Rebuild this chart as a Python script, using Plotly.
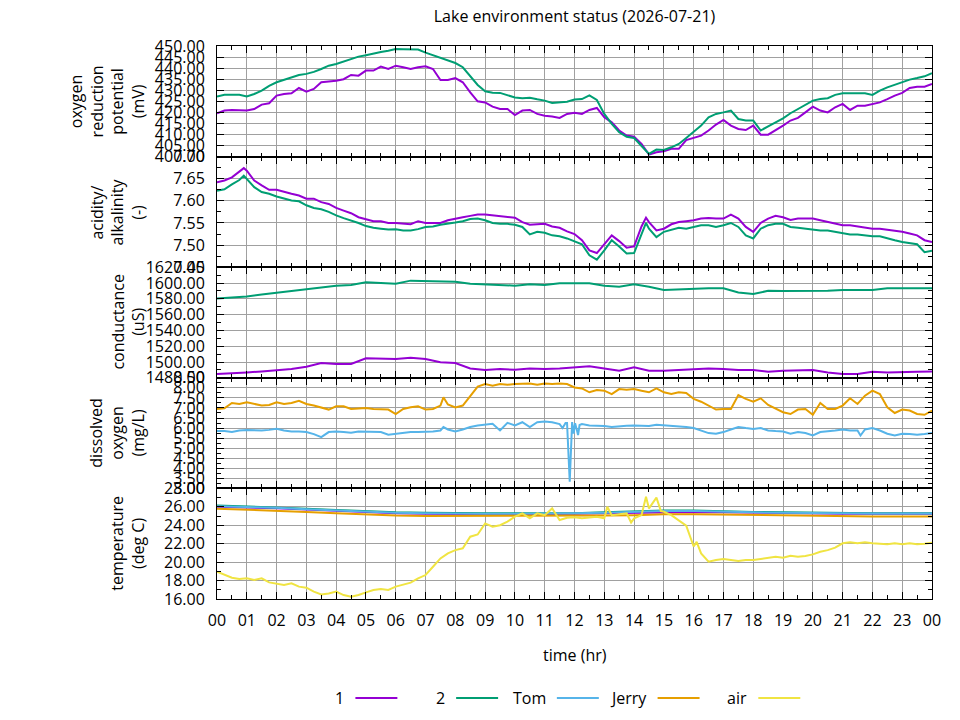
import plotly.graph_objects as go
from plotly.subplots import make_subplots
import pandas as pd

# ---------------- data ----------------
T15 = [i * 0.25 for i in range(97)]          # sample times (hours)
T30 = [i * 0.5 for i in range(49)]
T60 = [float(i) for i in range(25)]

orp_1 = [419.6, 420.8, 421.1, 420.8, 420.8, 421.5, 423.5, 424.1, 427.6, 428.3, 428.6, 431.0, 429.4, 430.6, 433.6, 434.0,
         434.3, 435.0, 436.9, 436.6, 438.9, 438.9, 440.7, 439.6, 441.1, 440.4, 439.6, 440.4, 440.8, 439.6, 434.6, 434.6,
         435.5, 433.6, 429.0, 425.0, 424.5, 422.6, 421.5, 421.5, 418.8, 420.8, 421.1, 419.3, 418.5, 418.1, 417.5, 419.3,
         419.8, 419.3, 421.1, 422.0, 417.8, 415.5, 411.8, 409.5, 409.0, 405.7, 400.9, 402.0, 402.4, 403.5, 403.5, 407.5,
         408.4, 409.5, 411.8, 414.5, 416.6, 414.0, 412.5, 412.0, 414.0, 409.9, 409.9, 411.8, 414.0, 416.3, 417.5, 420.0,
         422.6, 420.8, 420.0, 422.3, 423.8, 421.1, 423.0, 423.0, 423.8, 424.5, 426.0, 427.6, 428.8, 431.0, 431.6, 431.6,
         432.8]
orp_2 = [427.1, 428.0, 428.0, 428.0, 427.2, 428.3, 429.8, 432.0, 433.6, 434.8, 435.8, 436.9, 437.4, 438.3, 439.6, 441.1,
         441.9, 442.9, 444.1, 445.2, 445.8, 446.7, 447.3, 447.9, 448.6, 448.5, 448.5, 448.4, 447.0, 445.8, 444.9, 443.7,
         442.3, 440.4, 436.6, 432.4, 429.5, 428.9, 428.8, 427.9, 426.7, 426.4, 426.6, 425.9, 425.3, 424.2, 424.5, 424.8,
         425.8, 426.0, 427.7, 425.6, 419.3, 414.8, 411.0, 409.0, 408.4, 405.0, 401.2, 403.2, 403.0, 404.2, 405.7, 408.4,
         411.0, 414.0, 417.8, 419.3, 420.0, 420.8, 417.0, 416.3, 416.3, 411.8, 413.7, 415.5, 417.3, 419.6, 421.5, 423.5,
         425.3, 426.0, 426.4, 427.9, 428.6, 428.6, 428.6, 428.6, 427.9, 429.8, 431.3, 432.4, 433.6, 434.8, 435.5, 436.3,
         437.7]

T_PH = sorted(T15 + [0.9, 14.4])
ph_1 = [7.642, 7.646, 7.653, 7.665, 7.674, 7.668, 7.646, 7.635, 7.625, 7.625, 7.620, 7.616, 7.612, 7.605, 7.605, 7.597,
        7.593, 7.584, 7.578, 7.572, 7.563, 7.558, 7.554, 7.554, 7.550, 7.550, 7.548, 7.547, 7.554, 7.550, 7.550, 7.550,
        7.556, 7.560, 7.563, 7.566, 7.569, 7.569, 7.567, 7.566, 7.563, 7.562, 7.552, 7.546, 7.547, 7.548, 7.542, 7.539,
        7.531, 7.525, 7.511, 7.488, 7.482, 7.503, 7.522, 7.509, 7.494, 7.497, 7.542, 7.562, 7.552, 7.533, 7.537, 7.547,
        7.552, 7.554, 7.556, 7.560, 7.561, 7.560, 7.560, 7.569, 7.560, 7.541, 7.530, 7.550, 7.560, 7.566, 7.563, 7.557,
        7.560, 7.560, 7.560, 7.556, 7.552, 7.548, 7.545, 7.545, 7.542, 7.539, 7.537, 7.537, 7.535, 7.532, 7.530, 7.526,
        7.522, 7.511, 7.507]
ph_2 = [7.623, 7.626, 7.637, 7.647, 7.657, 7.650, 7.631, 7.620, 7.616, 7.610, 7.606, 7.601, 7.599, 7.590, 7.584, 7.581,
        7.575, 7.567, 7.561, 7.556, 7.550, 7.543, 7.539, 7.537, 7.535, 7.536, 7.533, 7.533, 7.536, 7.541, 7.542, 7.546,
        7.548, 7.551, 7.554, 7.559, 7.560, 7.556, 7.550, 7.548, 7.548, 7.546, 7.541, 7.524, 7.530, 7.528, 7.522, 7.520,
        7.515, 7.508, 7.502, 7.477, 7.467, 7.488, 7.511, 7.497, 7.481, 7.482, 7.526, 7.550, 7.537, 7.518, 7.530, 7.535,
        7.539, 7.537, 7.541, 7.545, 7.545, 7.541, 7.545, 7.550, 7.541, 7.522, 7.515, 7.537, 7.545, 7.548, 7.548, 7.541,
        7.539, 7.537, 7.535, 7.533, 7.533, 7.530, 7.528, 7.524, 7.524, 7.522, 7.520, 7.520, 7.515, 7.511, 7.507, 7.505,
        7.502, 7.484, 7.487]

cond_1 = [1484.7, 1485.5, 1486.8, 1488.1, 1489.8, 1491.1, 1494.1, 1498.7, 1497.5, 1497.5, 1504.7, 1504.7, 1503.8,
          1505.5, 1503.8, 1499.6, 1498.7, 1491.9, 1489.8, 1491.1, 1490.2, 1491.9, 1491.1, 1491.9, 1493.2, 1494.5,
          1491.9, 1489.0, 1493.2, 1489.0, 1489.0, 1489.8, 1491.1, 1491.9, 1491.1, 1489.8, 1489.8, 1487.7, 1489.0,
          1489.0, 1489.8, 1486.8, 1484.7, 1484.7, 1487.7, 1486.8, 1486.8, 1487.7, 1488.1]
cond_2 = [1580.4, 1581.7, 1583.0, 1585.5, 1587.7, 1589.8, 1591.9, 1594.5, 1596.6, 1597.4, 1600.9, 1600.0, 1599.2,
          1603.0, 1602.6, 1601.7, 1601.7, 1599.2, 1598.3, 1597.4, 1596.6, 1598.3, 1597.4, 1599.6, 1599.6, 1599.6,
          1596.6, 1595.3, 1598.3, 1595.3, 1591.1, 1591.9, 1591.9, 1593.2, 1593.2, 1588.1, 1586.0, 1590.2, 1589.8,
          1589.8, 1589.8, 1590.2, 1591.1, 1591.1, 1591.1, 1593.2, 1593.2, 1593.2, 1593.2]

T_JERRY = sorted(T15 + [7.6])
do_jerry = [6.95, 6.98, 7.25, 7.20, 7.28, 7.20, 7.12, 7.15, 7.28, 7.20, 7.25, 7.36, 7.20, 7.12, 7.03, 6.92,
            7.08, 7.08, 6.95, 6.98, 7.00, 6.95, 6.92, 6.92, 6.70, 6.95, 7.03, 7.08, 6.92, 6.95, 7.12, 7.53,
            7.17, 7.03, 7.12, 7.61, 8.06, 8.19, 8.10, 8.19, 8.15, 8.19, 8.19, 8.22, 8.15, 8.22, 8.19, 8.22,
            8.19, 8.02, 7.97, 7.78, 7.89, 7.86, 7.69, 7.94, 7.91, 7.94, 7.86, 7.78, 7.97, 7.78, 7.69, 7.78,
            7.74, 7.45, 7.31, 7.12, 6.92, 6.95, 6.95, 7.64, 7.45, 7.31, 7.48, 7.15, 6.98, 6.79, 6.70, 6.92,
            6.95, 6.66, 7.25, 6.95, 6.95, 7.12, 7.48, 7.20, 7.61, 7.86, 7.69, 7.03, 6.75, 6.92, 6.87, 6.70,
            6.66, 6.87]

T_TOM = sorted(T15 + [7.6, 11.6, 11.7, 11.84, 11.92, 11.97, 12.02, 12.07, 12.12, 12.17, 21.6])
do_tom = [5.85, 5.85, 5.80, 5.88, 5.91, 5.88, 5.88, 5.91, 5.96, 5.88, 5.83, 5.83, 5.80, 5.70, 5.55, 5.80,
          5.83, 5.80, 5.77, 5.83, 5.83, 5.80, 5.80, 5.67, 5.72, 5.77, 5.80, 5.80, 5.80, 5.83, 5.88, 6.05,
          5.93, 5.83, 5.93, 6.05, 6.13, 6.18, 6.21, 5.88, 6.26, 6.13, 6.29, 6.05, 6.29, 6.33, 6.29, 6.20,
          6.00, 6.25, 6.25, 3.33, 6.30, 5.72, 6.00, 6.24, 5.95, 5.65, 6.15, 6.20, 6.13, 6.13, 6.10, 6.05,
          6.10, 6.12, 6.13, 6.12, 6.10, 6.16, 6.13, 6.12, 6.10, 6.05, 6.00, 5.88, 5.75, 5.72, 5.80, 5.93,
          6.05, 6.00, 5.96, 6.00, 5.88, 5.85, 5.83, 5.72, 5.80, 5.75, 5.63, 5.80, 5.83, 5.88, 5.93, 5.88,
          5.88, 5.63, 5.93, 6.00, 5.88, 5.72, 5.63, 5.72, 5.70, 5.67, 5.70, 5.75]

temp_1 = [26.00, 25.95, 25.85, 25.70, 25.55, 25.40, 25.30, 25.25, 25.20, 25.20, 25.20, 25.20, 25.25,
          25.30, 25.35, 25.45, 25.45, 25.40, 25.35, 25.30, 25.30, 25.25, 25.25, 25.25, 25.25]
temp_2 = [26.15, 26.05, 25.95, 25.80, 25.65, 25.50, 25.40, 25.35, 25.30, 25.30, 25.30, 25.30, 25.30,
          25.40, 25.50, 25.60, 25.60, 25.50, 25.45, 25.40, 25.35, 25.35, 25.30, 25.30, 25.30]
temp_tom = [26.05, 26.00, 25.90, 25.75, 25.60, 25.45, 25.35, 25.30, 25.25, 25.25, 25.25, 25.25, 25.30,
            25.35, 25.45, 25.55, 25.55, 25.45, 25.40, 25.35, 25.30, 25.30, 25.28, 25.28, 25.28]
temp_jerry = [25.80, 25.70, 25.60, 25.45, 25.30, 25.15, 25.05, 25.00, 25.00, 25.00, 25.00, 25.00, 25.00,
              25.05, 25.10, 25.20, 25.20, 25.15, 25.10, 25.05, 25.00, 24.95, 24.95, 24.95, 24.95]

T_AIR = sorted(T15 + [13.1, 13.9, 14.4, 14.9, 16.1])
temp_air = [18.96, 18.60, 18.30, 18.17, 18.24, 18.06, 18.24, 17.80, 17.70, 17.52, 17.70, 17.34, 17.23, 16.80, 16.50,
            16.60, 16.80, 16.43, 16.25, 16.43, 16.72, 16.98, 17.09, 16.98, 17.34, 17.52, 17.77, 18.24, 18.60, 19.50,
            20.40, 20.95, 21.30, 21.50, 22.76, 23.00, 24.20, 23.84, 24.00, 24.40, 24.93, 25.29, 24.75, 25.29, 25.10,
            25.83, 24.57, 24.82, 24.88, 24.75, 24.82, 24.93, 24.75, 26.00, 25.10, 25.18, 25.29, 24.30, 24.75, 25.10,
            27.10, 25.83, 27.00, 25.54, 25.47, 25.10, 24.57, 23.95, 21.70, 22.20, 20.95, 20.05, 20.23, 20.34, 20.23,
            20.12, 20.23, 20.23, 20.34, 20.48, 20.59, 20.48, 20.70, 20.59, 20.66, 20.84, 21.13, 21.30, 21.57, 22.04,
            22.15, 22.04, 22.15, 22.04, 22.00, 21.93, 22.04, 21.93, 22.04, 21.93, 22.00, 22.10]

SERIES_NAMES = ["1", "2", "Tom", "Jerry", "air"]
COLORS = {"1": "#9400d3", "2": "#009e73", "Tom": "#56b4e9", "Jerry": "#e69f00", "air": "#f0e442"}

Y_TITLES = ["oxygen<br>reduction<br>potential<br>(mV)", "acidity/<br>alkalinity<br>(-)",
            "conductance<br>(uS)", "dissolved<br>oxygen<br>(mg/L)", "temperature<br>(deg C)"]
Y_RANGES = [(400, 450, 5, None), (7.45, 7.70, 0.05, 0.025), (1480, 1620, 20, 10),
            (3.0, 8.5, 0.5, 0.25), (16, 28, 2, 1)]

TITLE = "Lake environment status (2026-07-21)"
X_TITLE = "time (hr)"
DAY = pd.Timestamp("2026-07-21")


def to_time(hours):
    return [DAY + pd.Timedelta(hours=h) for h in hours]


# ---------------- figure ----------------
OFF = 8                      # page body margin of the html page
W, H = 960 - OFF, 720 - OFF
ML, MR, MT, MB = 216.5 - OFF, 28, 45.5 - OFF, 121
PW, PH = W - ML - MR, H - MT - MB
FONT = "Open Sans"
FS = 16


def px_x(px):   # page pixel -> paper x
    return (px - OFF - ML) / PW


def px_y(py):   # page pixel -> paper y
    return (H - MB - (py - OFF)) / PH


fig = make_subplots(rows=5, cols=1, shared_xaxes=True, vertical_spacing=0)

panels = [
    [("1", T15, orp_1), ("2", T15, orp_2)],
    [("1", T_PH, ph_1), ("2", T_PH, ph_2)],
    [("1", T30, cond_1), ("2", T30, cond_2)],
    [("Tom", T_TOM, do_tom), ("Jerry", T_JERRY, do_jerry)],
    [("1", T60, temp_1), ("2", T60, temp_2), ("Tom", T60, temp_tom), ("Jerry", T60, temp_jerry),
     ("air", T_AIR, temp_air)],
]
for r, traces in enumerate(panels, start=1):
    for name, t, v in traces:
        fig.add_trace(go.Scatter(x=to_time(t), y=v, mode="lines", name=name, showlegend=False,
                                 line=dict(color=COLORS[name], width=2)), row=r, col=1)

axis_common = dict(showline=True, linecolor="black", linewidth=1, mirror="allticks",
                   ticks="inside", ticklen=7, tickcolor="black", tickwidth=1,
                   showgrid=True, gridcolor="#a0a0a0", gridwidth=1, zeroline=False,
                   tickfont=dict(family=FONT, size=FS, color="black"))

fig.update_xaxes(**axis_common, type="date",
                 range=[DAY, DAY + pd.Timedelta(hours=24)],
                 dtick=3600000, tick0=DAY, tickformat="%H", ticklabelstandoff=7,
                 minor=dict(dtick=1800000, tick0=DAY, ticks="inside", ticklen=4,
                            tickcolor="black", showgrid=False))

for r, (lo, hi, dt, mdt) in enumerate(Y_RANGES, start=1):
    kw = dict(axis_common)
    kw.update(range=[lo, hi], dtick=dt, tick0=lo, tickformat=".2f", ticklabelstandoff=8)
    if mdt is not None:
        kw["minor"] = dict(dtick=mdt, tick0=lo, ticks="inside", ticklen=4, tickcolor="black", showgrid=False)
    fig.update_yaxes(**kw, row=r, col=1)

annotations = []
n = len(Y_RANGES)
for i, txt in enumerate(Y_TITLES):
    lines = txt.count("<br>") + 1
    cx = 138 - (lines - 1) * 21 / 2
    cy = 1 - (i + 0.5) / n
    annotations.append(dict(text=txt, x=px_x(cx), y=cy, xref="paper", yref="paper", showarrow=False,
                            textangle=-90, xanchor="center", yanchor="middle",
                            font=dict(family=FONT, size=FS, color="black")))

annotations.append(dict(text=X_TITLE, x=0.5, y=px_y(655), xref="paper", yref="paper", showarrow=False,
                        xanchor="center", yanchor="middle", font=dict(family=FONT, size=FS, color="black")))

# legend (text followed by line sample, gnuplot style)
shapes = []
leg_y = px_y(698)
for k, name in enumerate(SERIES_NAMES):
    x0 = 355 + k * 100.8
    shapes.append(dict(type="line", xref="paper", yref="paper", x0=px_x(x0), x1=px_x(x0 + 42),
                       y0=leg_y, y1=leg_y, line=dict(color=COLORS[name], width=2)))
    annotations.append(dict(text=name, x=px_x(x0 - 9), y=leg_y, xref="paper", yref="paper",
                            showarrow=False, xanchor="right", yanchor="middle",
                            font=dict(family=FONT, size=FS, color="black")))

fig.update_layout(
    width=W, height=H, autosize=False,
    margin=dict(l=ML, r=MR, t=MT, b=MB, pad=0),
    paper_bgcolor="white", plot_bgcolor="white",
    title=dict(text=TITLE, x=0.5, xref="paper", xanchor="center", y=1 - (16 - OFF) / H, yanchor="middle",
               font=dict(family=FONT, size=FS, color="black")),
    annotations=annotations, shapes=shapes, showlegend=False,
    font=dict(family=FONT, size=FS, color="black"),
)

fig.write_html("out.html")
